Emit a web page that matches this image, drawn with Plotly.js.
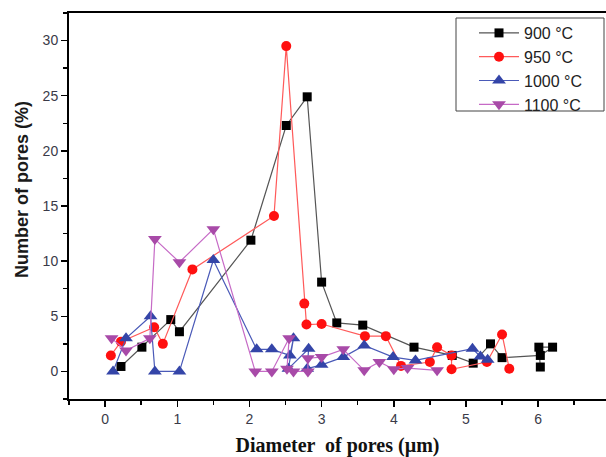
<!DOCTYPE html>
<html>
<head>
<meta charset="utf-8">
<script src="https://cdn.plot.ly/plotly-3.0.1.min.js"></script>
<style>html,body{margin:0;padding:0;background:#fff;overflow:hidden}</style>
</head>
<body>
<div id="chart" style="width:606px;height:457px"></div>
<script>
// 900 °C
const x900 = [0.22, 0.51, 0.91, 1.03, 2.02, 2.51, 2.80, 3.00, 3.21, 3.57, 4.28, 4.81, 5.10, 5.34, 5.50, 6.03, 6.20, 6.01, 6.03];
const y900 = [0.45, 2.2, 4.7, 3.6, 11.9, 22.3, 24.9, 8.1, 4.4, 4.2, 2.2, 1.45, 0.75, 2.5, 1.25, 1.45, 2.2, 2.2, 0.4];
// 950 °C
const x950 = [0.08, 0.22, 0.68, 0.80, 1.21, 2.34, 2.51, 2.76, 2.79, 3.00, 3.60, 3.89, 4.10, 4.50, 4.60, 4.80, 4.80, 5.29, 5.50, 5.60];
const y950 = [1.45, 2.7, 4.0, 2.5, 9.25, 14.1, 29.5, 6.15, 4.25, 4.3, 3.2, 3.2, 0.5, 0.85, 2.2, 1.45, 0.2, 0.85, 3.35, 0.25];
// 1000 °C
const x1000 = [0.11, 0.29, 0.63, 0.69, 1.03, 1.50, 2.10, 2.31, 2.56, 2.61, 2.54, 2.82, 2.80, 3.00, 3.30, 3.59, 3.99, 4.30, 5.09, 5.20, 5.30];
const y1000 = [0, 3.0, 5.0, 0, 0, 10.1, 2.0, 2.0, 1.45, 3.0, 0.25, 2.06, 0.25, 0.6, 1.3, 2.35, 1.3, 1.0, 2.06, 1.36, 1.06];
// 1100 °C
const x1100 = [0.09, 0.29, 0.62, 0.69, 1.03, 1.50, 2.08, 2.31, 2.55, 2.52, 2.61, 2.81, 2.81, 3.00, 3.30, 3.59, 3.80, 4.00, 4.19, 4.60];
const y1100 = [3.0, 1.9, 3.0, 12.0, 9.9, 12.9, 0, 0, 3.0, 0.25, 0, 0, 1.2, 1.3, 2.0, 0.1, 0.85, 0.2, 0.3, 0.1];

const names = ['900 °C', '950 °C', '1000 °C', '1100 °C'];
const xTicks = [0, 1, 2, 3, 4, 5, 6];
const yTicks = [0, 5, 10, 15, 20, 25, 30];
const xTitle = 'Diameter  of pores (µm)';
const yTitle = 'Number of pores (%)';

const traces = [
  {x: x900, y: y900, name: names[0], mode: 'lines+markers',
   line: {color: '#555555', width: 1.2},
   marker: {symbol: 'square', size: 9, color: '#000000'}},
  {x: x950, y: y950, name: names[1], mode: 'lines+markers',
   line: {color: '#ff5a5a', width: 1.2},
   marker: {symbol: 'circle', size: 10, color: '#ff1010'}},
  {x: x1000, y: y1000, name: names[2], mode: 'lines+markers',
   line: {color: '#4a5ab8', width: 1.2},
   marker: {symbol: 'triangle-up', size: 12, color: '#3445a8'}},
  {x: x1100, y: y1100, name: names[3], mode: 'lines+markers',
   line: {color: '#c66ac6', width: 1.2},
   marker: {symbol: 'triangle-down', size: 12, color: '#a84aa8'}}
];

const tickFont = {family: 'Liberation Sans, Arial, sans-serif', size: 14, color: '#3a3a48'};

// plot area: left 69px, width 537px, top 13px, height 386px
const layout = {
  width: 606, height: 457,
  margin: {l: 69, r: 0, t: 13, b: 58},
  paper_bgcolor: '#ffffff', plot_bgcolor: '#ffffff',
  showlegend: true,
  legend: {
    x: (474 - 69) / 537, y: 1 - (16 - 13) / 386, xanchor: 'left', yanchor: 'top',
    bgcolor: 'rgba(0,0,0,0)', borderwidth: 0,
    font: {family: 'Liberation Sans, Arial, sans-serif', size: 16, color: '#222222'},
    tracegroupgap: 0, itemwidth: 40
  },
  shapes: [{
    type: 'rect', xref: 'paper', yref: 'paper', layer: 'below',
    x0: (456 - 69) / 537, x1: (604 - 69) / 537,
    y0: 1 - (111 - 13) / 386, y1: 1 - (18 - 13) / 386,
    line: {color: '#444444', width: 1}, fillcolor: '#ffffff'
  }],
  annotations: [{
    text: yTitle, xref: 'paper', yref: 'paper',
    x: (22 - 69) / 537, y: (399 - 190) / 386, xanchor: 'center', yanchor: 'middle',
    textangle: -90, showarrow: false,
    font: {family: 'Liberation Sans, Arial, sans-serif', size: 18, color: '#1a1a1a', weight: 'bold'}
  }],
  xaxis: {
    range: [-0.5, 6.94], tickvals: xTicks, ticktext: xTicks.map(String),
    showgrid: false, zeroline: false,
    showline: true, linecolor: '#000000', linewidth: 2, mirror: true,
    ticks: 'outside', ticklen: 6, tickwidth: 1.5, tickcolor: '#000000',
    minor: {dtick: 0.5, tick0: 0, ticks: 'outside', ticklen: 4, tickwidth: 1.5, tickcolor: '#000000'},
    tickfont: tickFont,
    title: {text: xTitle, standoff: 12,
      font: {family: 'Liberation Serif, Times New Roman, serif', size: 20, color: '#111111', weight: 'bold'}}
  },
  yaxis: {
    range: [-2.5, 32.5], tickvals: yTicks, ticktext: yTicks.map(String),
    showgrid: false, zeroline: false,
    showline: true, linecolor: '#000000', linewidth: 2, mirror: false,
    ticks: 'outside', ticklen: 6, tickwidth: 1.5, tickcolor: '#000000',
    minor: {dtick: 2.5, tick0: 0, ticks: 'outside', ticklen: 4, tickwidth: 1.5, tickcolor: '#000000'},
    tickfont: tickFont
  }
};

Plotly.newPlot('chart', traces, layout, {displayModeBar: false, staticPlot: true});
</script>
</body>
</html>
